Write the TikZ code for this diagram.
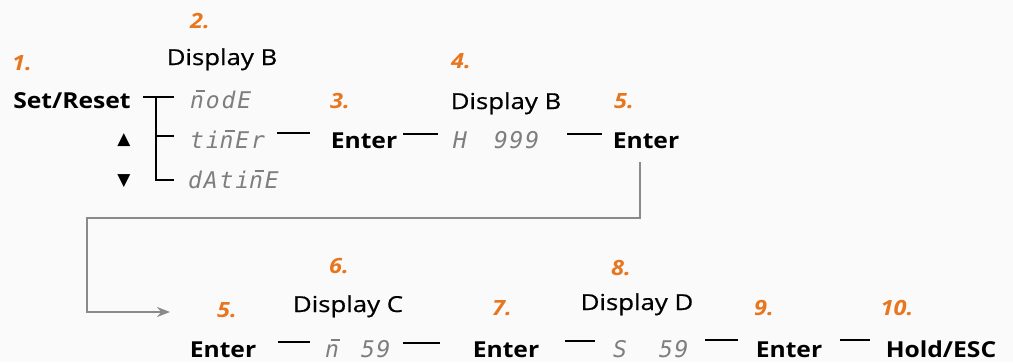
\documentclass[tikz,border=0pt]{standalone}
\usepackage{fontspec}
\setmainfont{Open Sans}[FakeStretch=1.12]
\newfontfamily\dispfont{Open Sans}[FakeStretch=1.17, FakeBold=0.6]
\newfontfamily\segfont{DejaVu Sans Mono}[LetterSpace=8]
\newfontfamily\symfont{DejaVu Sans}
\usetikzlibrary{arrows.meta}
\definecolor{steporange}{HTML}{E8761E}
\definecolor{seggray}{HTML}{7E7E7E}
\definecolor{loopgray}{HTML}{8A8A8A}
\newcommand{\nbar}{\rlap{\kern0.24em\raisebox{0.7em}{\rule{0.42em}{0.08em}}}n}

\begin{document}
\begin{tikzpicture}[x=1pt, y=-1pt,
  key/.style={anchor=base, inner sep=0pt, font=\fontsize{22}{26}\selectfont\bfseries},
  disp/.style={anchor=base, inner sep=0pt, font=\fontsize{22}{26}\dispfont},
  num/.style={anchor=base, inner sep=0pt, text=steporange, font=\fontsize{21}{24}\selectfont\bfseries\itshape},
  seg/.style={anchor=base west, inner sep=0pt, text=seggray, font=\fontsize{23}{26}\segfont\itshape},
  tri/.style={inner sep=0pt, font=\fontsize{17}{20}\symfont},
  bar/.style={line width=2.2pt},
  loop/.style={line width=2.2pt, draw=loopgray, -{Stealth[length=13pt,width=10pt]}}
]
  \fill[black!2] (0,0) rectangle (1013,362);

  % first row
  \node[num] (n1) at (22,70) {1.};
  \node[key] (setreset) at (72,108) {Set/Reset};
  \node[tri] (up) at (124,140) {▲};
  \node[tri] (down) at (124,181) {▼};
  \node[num] (n2) at (200,28) {2.};
  \node[disp] (dispb) at (222,65) {Display B};
  \node[seg] (mode) at (190,108) {\nbar odE};
  \node[seg] (timer) at (190,148) {ti\nbar Er};
  \node[seg] (datime) at (188,188) {dAti\nbar E};
  \node[num] (n3) at (340,108) {3.};
  \node[key] (enter1) at (364,148) {Enter};
  \node[num] (n4) at (461,68) {4.};
  \node[disp] (dispbb) at (506,109) {Display B};
  \node[seg] (hval) at (453,148) {H\hspace{27pt}999};
  \node[num] (n5) at (624,108) {5.};
  \node[key] (enter2) at (646,148) {Enter};

  % second row
  \node[num] (n5b) at (227,317) {5.};
  \node[num] (n6) at (339,273) {6.};
  \node[disp] (dispc) at (348,312) {Display C};
  \node[key] (enter3) at (223,357) {Enter};
  \node[seg] (mval) at (325,357) {\nbar\hspace{22pt}59};
  \node[num] (n7) at (502,315) {7.};
  \node[key] (enter4) at (506,357) {Enter};
  \node[num] (n8) at (621,275) {8.};
  \node[disp] (dispd) at (637,310) {Display D};
  \node[seg] (sval) at (613,357) {S\hspace{32pt}59};
  \node[num] (n9) at (764,315) {9.};
  \node[key] (enter5) at (789,357) {Enter};
  \node[num] (n10) at (897,315) {10.};
  \node[key] (hold) at (941,357) {Hold/ESC};

  % bracket
  \draw[bar] ([shift={(71,-11)}]setreset.base) -- ([shift={(-16,-11)}]mode.base west);
  \draw[bar] ([shift={(-34,-11)}]mode.base west) |- ([shift={(-14,-8)}]datime.base west);
  \draw[bar] ([shift={(-34,-12)}]timer.base west) -- ([shift={(-16,-12)}]timer.base west);

  % links
  \draw[bar] ([shift={(87,-15)}]timer.base west) -- ([shift={(-54,-15)}]enter1.base);
  \draw[bar] ([shift={(39,-14)}]enter1.base) -- ([shift={(-15,-14)}]hval.base west);
  \draw[bar] ([shift={(114,-14)}]hval.base west) -- ([shift={(-44,-14)}]enter2.base);
  \draw[bar] ([shift={(55,-15)}]enter3.base) -- ([shift={(-15,-15)}]mval.base west);
  \draw[bar] ([shift={(78,-14)}]mval.base west) -- ([shift={(-66,-14)}]enter4.base);
  \draw[bar] ([shift={(59,-16)}]enter4.base) -- ([shift={(-18,-16)}]sval.base west);
  \draw[bar] ([shift={(92,-17)}]sval.base west) -- ([shift={(-51,-17)}]enter5.base);
  \draw[bar] ([shift={(51,-17)}]enter5.base) -- ([shift={(-71,-17)}]hold.base);

  % loop back
  \coordinate (turn) at (87,218);
  \coordinate (loopend) at (170,312);
  \draw[loop] ([shift={(-6,14)}]enter2.base) |- (turn) |- (loopend);
\end{tikzpicture}
\end{document}
